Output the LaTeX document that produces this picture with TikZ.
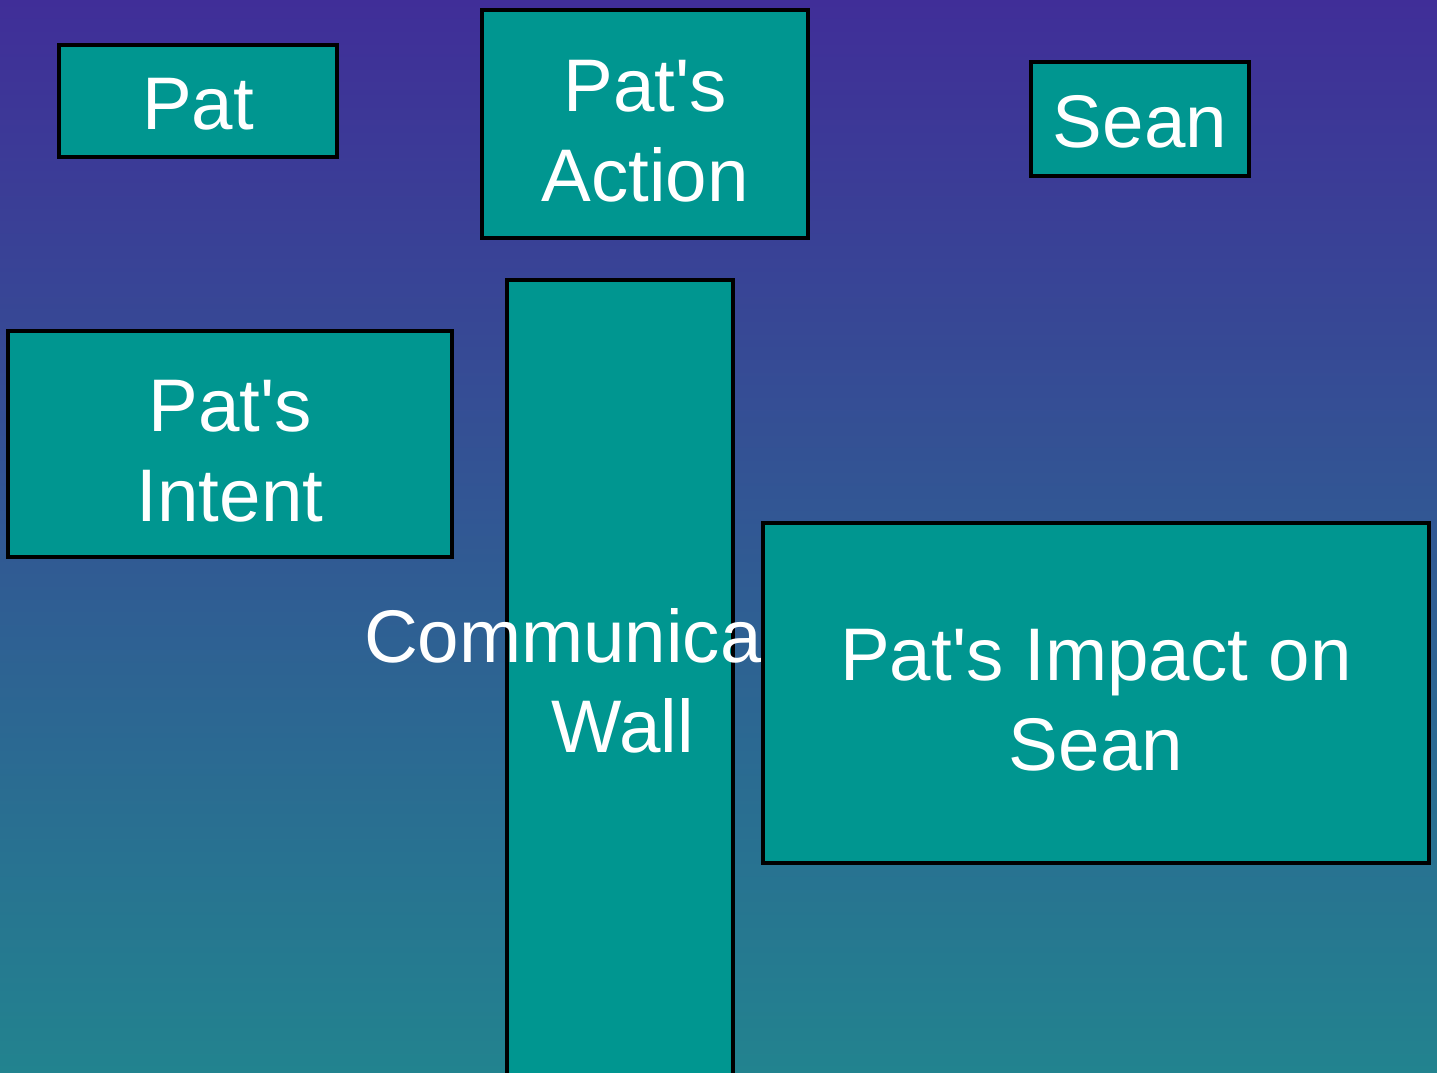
\documentclass[tikz,border=0pt]{standalone}
\usepackage{fontspec}
\newfontfamily\boxfont{Liberation Sans}
\definecolor{bgtop}{RGB}{64,46,152}
\definecolor{bgbottom}{RGB}{34,131,143}
\definecolor{boxfill}{RGB}{0,150,144}

\begin{document}
\begin{tikzpicture}[x=0.01cm, y=0.01cm]
\tikzstyle{every node}=[font=\boxfont\fontsize{21.2}{25.6}\selectfont, text=white, align=center];
\tikzstyle{box}=[draw=black, line width=1.15pt, fill=boxfill, shape=rectangle, inner sep=0pt];
\tikzstyle{every label}=[yshift=-0.03cm];
\useasboundingbox (0,0) rectangle (1437,1072);
\shade[top color=bgtop, bottom color=bgbottom] (0,0) rectangle (1437,1072);
\node [box, minimum width=2.78cm, minimum height=1.12cm, label=center:Pat] (pat) at (198,971) {};
\node [box, minimum width=3.25cm, minimum height=2.27cm, label={[yshift=-0.045cm]center:{Pat's\\Action}}] (action) at (645,948) {};
\node [box, minimum width=2.17cm, minimum height=1.14cm, label=center:Sean] (sean) at (1140,953) {};
\node [box, minimum width=4.43cm, minimum height=2.26cm, label={[yshift=-0.045cm]center:{Pat's\\Intent}}] (intent) at (230,628) {};
% the wall text runs under the impact box
\node [box, minimum width=2.26cm, minimum height=8.05cm, label={[xshift=0.03cm, yshift=0.05cm]center:{Communication\\Wall}}] (wall) at (620,389) {};
\node [box, minimum width=6.66cm, minimum height=3.40cm, label={[yshift=-0.045cm]center:{Pat's Impact on\\Sean}}] (impact) at (1096,379) {};
\end{tikzpicture}
\end{document}
